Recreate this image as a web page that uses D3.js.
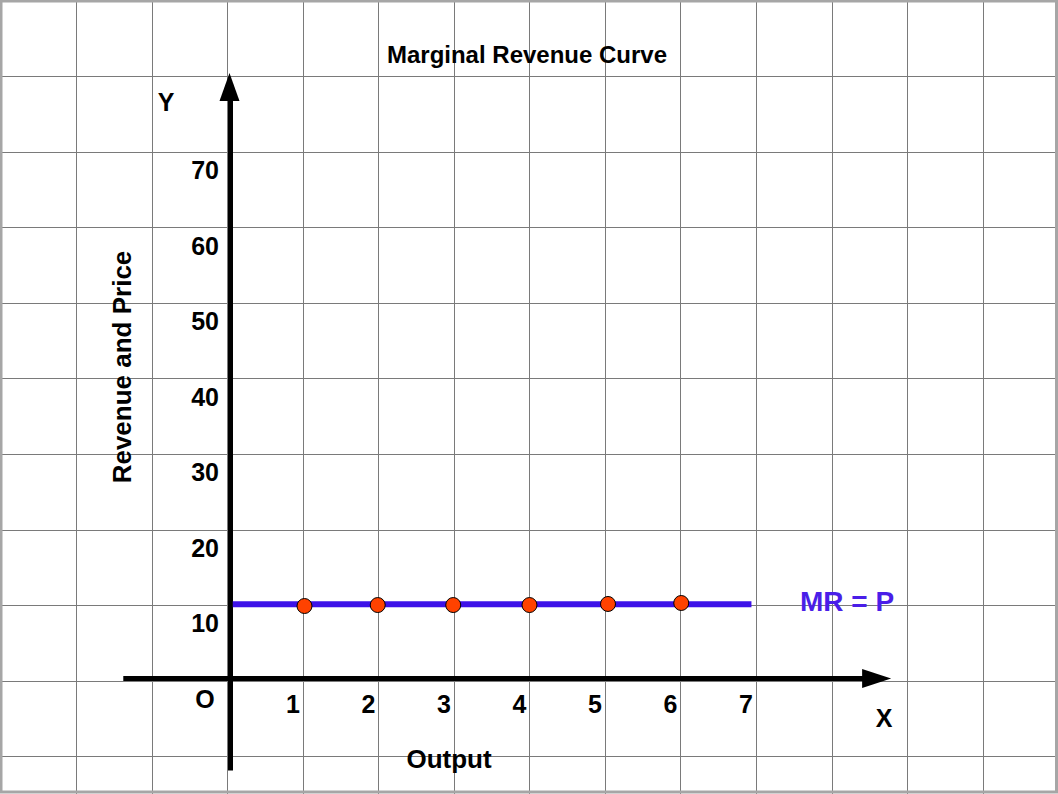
<!DOCTYPE html>
<html>
<head>
<meta charset="utf-8">
<script src="https://cdn.jsdelivr.net/npm/d3@7/dist/d3.min.js"></script>
<style>
  html, body { margin: 0; padding: 0; background: #ffffff; }
  svg { display: block; }
  text { font-family: "Liberation Sans", Arial, sans-serif; font-weight: bold; }
</style>
</head>
<body>
<script>
// ---- data ----
const title = "Marginal Revenue Curve";
const xTickValues = [1, 2, 3, 4, 5, 6, 7];
const yTickValues = [10, 20, 30, 40, 50, 60, 70];
const originLabel = "O";
const xAxisLabel = "Output";
const yAxisLabel = "Revenue and Price";
const xAxisName = "X";
const yAxisName = "Y";
const mrLabel = "MR = P";
const mrLineX = [0.03, 6.9];
const mrLineY = [9.83, 9.83];
const pointsX = [0.98, 1.95, 2.95, 3.96, 5.0, 5.97];
const pointsY = [9.6, 9.73, 9.73, 9.73, 9.87, 10.0];
const xAxisExtent = [-1.42, 8.75];
const yAxisExtent = [-12.2, 80.2];

// ---- layout ----
const W = 1058, H = 794;
const svg = d3.select("body").append("svg").attr("width", W).attr("height", H);

const x = d3.scaleLinear().domain([0, 7]).range([230.5, 230.5 + 7 * 75.5]);
const y = d3.scaleLinear().domain([0, 70]).range([678.5, 678.5 - 7 * 75.5]);

// background grid (page grid)
const gridScale = d3.scaleLinear().domain([0, 1]).range([0.5, 76.05]);
const gridV = d3.range(1, 14).map(k => gridScale(k));
const gridH = d3.range(1, 11).map(k => gridScale(k) + 0.2);
const grid = svg.append("g");
grid.selectAll("line.v").data(gridV).join("line")
  .attr("x1", d => Math.round(d) + 0.5).attr("x2", d => Math.round(d) + 0.5)
  .attr("y1", 0).attr("y2", H)
  .attr("stroke", "#7a7a7a").attr("stroke-width", 1);
grid.selectAll("line.h").data(gridH).join("line")
  .attr("y1", d => Math.round(d) + 0.5).attr("y2", d => Math.round(d) + 0.5)
  .attr("x1", 0).attr("x2", W)
  .attr("stroke", "#7a7a7a").attr("stroke-width", 1);

// frame
svg.append("rect").attr("x", 1).attr("y", 1).attr("width", W - 2.5).attr("height", H - 3)
  .attr("fill", "none").attr("stroke", "#a6a6a6").attr("stroke-width", 3);

// axes
const axG = svg.append("g");
axG.append("line")
  .attr("x1", x(xAxisExtent[0])).attr("x2", x(xAxisExtent[1]) - 20)
  .attr("y1", y(0)).attr("y2", y(0))
  .attr("stroke", "#000").attr("stroke-width", 5);
const xt = x(xAxisExtent[1]);
axG.append("path")
  .attr("d", `M${xt},${y(0)} L${xt - 29},${y(0) - 9.5} L${xt - 29},${y(0) + 9.5} Z`)
  .attr("fill", "#000");

axG.append("line")
  .attr("x1", x(0)).attr("x2", x(0))
  .attr("y1", y(yAxisExtent[0])).attr("y2", y(yAxisExtent[1]) + 20)
  .attr("stroke", "#000").attr("stroke-width", 5);
const yt = y(yAxisExtent[1]);
axG.append("path")
  .attr("d", `M${x(0) - 1},${yt} L${x(0) - 11},${yt + 28} L${x(0) + 9},${yt + 28} Z`)
  .attr("fill", "#000");

// tick labels
svg.append("g").selectAll("text").data(xTickValues).join("text")
  .attr("x", d => x(d) - 13).attr("y", y(0) + 34)
  .attr("text-anchor", "middle").attr("font-size", 25).attr("fill", "#000")
  .text(d => d);
svg.append("g").selectAll("text").data(yTickValues).join("text")
  .attr("x", 219).attr("y", d => y(d) + 29)
  .attr("text-anchor", "end").attr("font-size", 25).attr("fill", "#000")
  .text(d => d);
svg.append("text").attr("x", 205).attr("y", 708).attr("text-anchor", "middle")
  .attr("font-size", 25).text(originLabel);

// MR line
const line = d3.line().x(d => x(d[0])).y(d => y(d[1]));
svg.append("path")
  .datum(mrLineX.map((v, i) => [v, mrLineY[i]]))
  .attr("d", line)
  .attr("stroke", "#3d12e8").attr("stroke-width", 6).attr("fill", "none");

// points
svg.append("g").selectAll("circle").data(pointsX.map((v, i) => [v, pointsY[i]])).join("circle")
  .attr("cx", d => x(d[0])).attr("cy", d => y(d[1])).attr("r", 7.5)
  .attr("fill", "#ff4200").attr("stroke", "#000").attr("stroke-width", 1);

// labels
svg.append("text").attr("x", 527).attr("y", 63).attr("text-anchor", "middle")
  .attr("font-size", 24).text(title);
svg.append("text").attr("x", 847).attr("y", 611).attr("text-anchor", "middle")
  .attr("font-size", 28).attr("fill", "#4a1ee8").text(mrLabel);
svg.append("text").attr("x", 449).attr("y", 768).attr("text-anchor", "middle")
  .attr("font-size", 26).text(xAxisLabel);
svg.append("text").attr("transform", "translate(131,367) rotate(-90)").attr("text-anchor", "middle")
  .attr("font-size", 26).text(yAxisLabel);
svg.append("text").attr("x", 884).attr("y", 727).attr("text-anchor", "middle")
  .attr("font-size", 25).text(xAxisName);
svg.append("text").attr("x", 166).attr("y", 111).attr("text-anchor", "middle")
  .attr("font-size", 25).text(yAxisName);
</script>
</body>
</html>
